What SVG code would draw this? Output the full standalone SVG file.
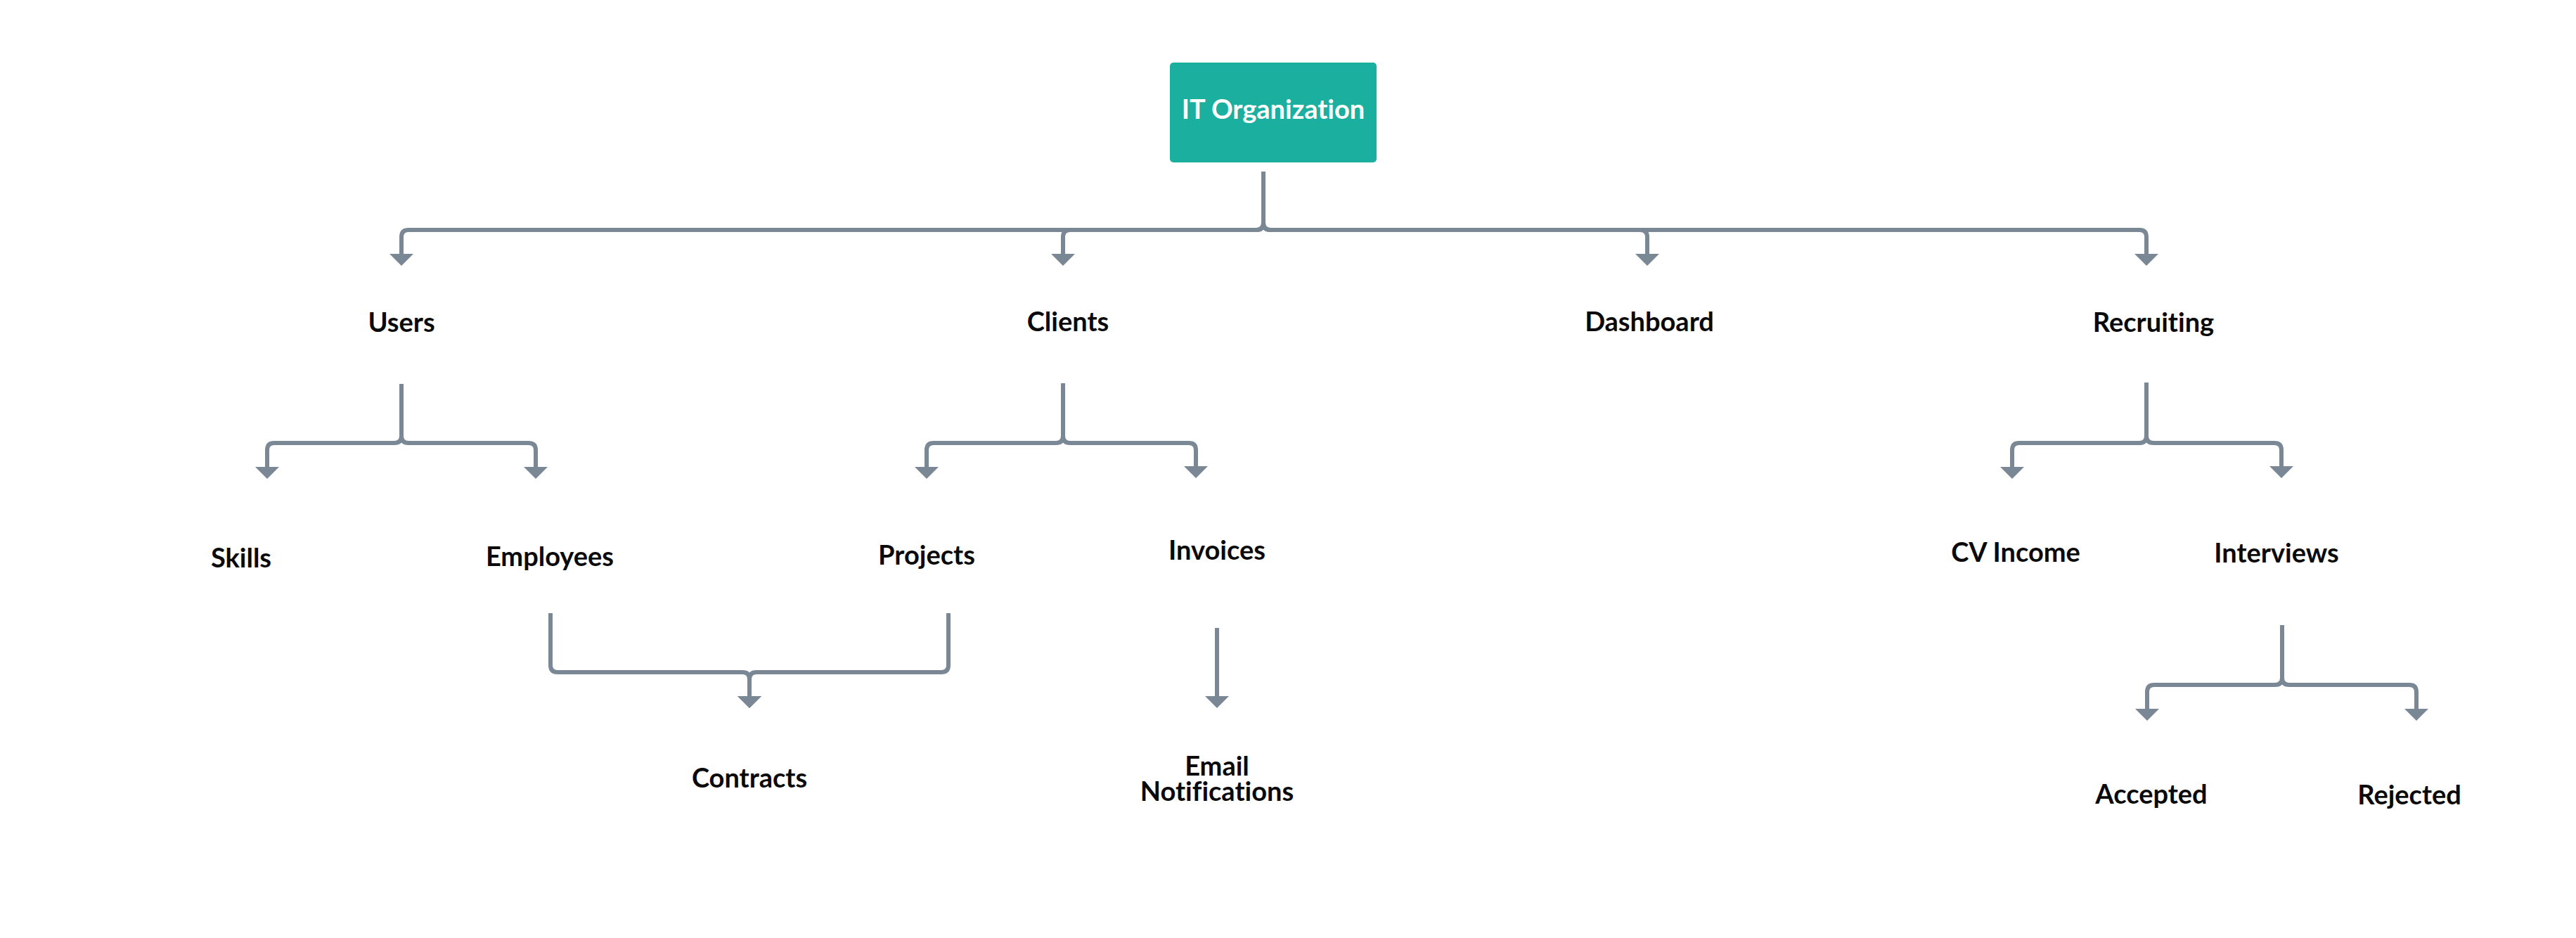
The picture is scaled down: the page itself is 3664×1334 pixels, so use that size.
<svg xmlns="http://www.w3.org/2000/svg" width="3664" height="1334" viewBox="0 0 3664 1334">
  <style>
    .edge { fill: none; stroke: #7a8795; stroke-width: 6; stroke-linejoin: round; }
    .lbl { font-family: Lato, "Noto Sans", "Liberation Sans", sans-serif; font-weight: bold; font-size: 38px; fill: #0a0a0a; text-anchor: middle; font-variant-ligatures: none; }
    .root-lbl { font-family: Lato, "Noto Sans", "Liberation Sans", sans-serif; font-weight: bold; font-size: 38px; fill: #ffffff; text-anchor: middle; font-variant-ligatures: none; }
  </style>
  <defs>
    <marker id="arr" markerUnits="userSpaceOnUse" viewBox="0 -17 18 34" markerWidth="18" markerHeight="34" refX="1" refY="0" orient="auto">
      <path d="M0,-17 L17,0 L0,17 Z" fill="#7a8795"/>
    </marker>
  </defs>
  <rect width="3664" height="1334" fill="#ffffff"/>

  <g id="connectors">
    <!-- root to level 1 -->
    <path class="edge" marker-end="url(#arr)" d="M1797,244 V317 Q1797,327 1787,327 H581 Q571,327 571,337 V362"/>
    <path class="edge" marker-end="url(#arr)" d="M1797,244 V317 Q1797,327 1787,327 H1522 Q1512,327 1512,337 V362"/>
    <path class="edge" marker-end="url(#arr)" d="M1797,244 V317 Q1797,327 1807,327 H2333 Q2343,327 2343,337 V362"/>
    <path class="edge" marker-end="url(#arr)" d="M1797,244 V317 Q1797,327 1807,327 H3043 Q3053,327 3053,337 V362"/>
    <!-- Users -->
    <path class="edge" marker-end="url(#arr)" d="M571,546 V620 Q571,630 561,630 H390 Q380,630 380,640 V665"/>
    <path class="edge" marker-end="url(#arr)" d="M571,546 V620 Q571,630 581,630 H752 Q762,630 762,640 V665"/>
    <!-- Clients -->
    <path class="edge" marker-end="url(#arr)" d="M1512,545 V620 Q1512,630 1502,630 H1328 Q1318,630 1318,640 V665"/>
    <path class="edge" marker-end="url(#arr)" d="M1512,545 V620 Q1512,630 1522,630 H1691 Q1701,630 1701,640 V664"/>
    <!-- Recruiting -->
    <path class="edge" marker-end="url(#arr)" d="M3053,544 V620 Q3053,630 3043,630 H2872 Q2862,630 2862,640 V665"/>
    <path class="edge" marker-end="url(#arr)" d="M3053,544 V620 Q3053,630 3063,630 H3235 Q3245,630 3245,640 V664"/>
    <!-- Employees + Projects to Contracts -->
    <path class="edge" marker-end="url(#arr)" d="M783,872 V946 Q783,956 793,956 H1056 Q1066,956 1066,966 V991"/>
    <path class="edge" marker-end="url(#arr)" d="M1349,872 V946 Q1349,956 1339,956 H1076 Q1066,956 1066,966 V991"/>
    <!-- Invoices to Email Notifications -->
    <path class="edge" marker-end="url(#arr)" d="M1731,893 V991"/>
    <!-- Interviews -->
    <path class="edge" marker-end="url(#arr)" d="M3246,889 V964 Q3246,974 3236,974 H3064 Q3054,974 3054,984 V1009"/>
    <path class="edge" marker-end="url(#arr)" d="M3246,889 V964 Q3246,974 3256,974 H3427 Q3437,974 3437,984 V1009"/>
  </g>

  <g id="node-root">
    <rect x="1664" y="89" width="294" height="142" rx="5" fill="#1baf9f"/>
    <text class="root-lbl" x="1811" y="169">IT Organization</text>
  </g>
  <g id="node-users"><text class="lbl" x="571" y="472">Users</text></g>
  <g id="node-clients"><text class="lbl" x="1519" y="471">Clients</text></g>
  <g id="node-dashboard"><text class="lbl" x="2346" y="471">Dashboard</text></g>
  <g id="node-recruiting"><text class="lbl" x="3063" y="472">Recruiting</text></g>
  <g id="node-skills"><text class="lbl" x="343" y="807">Skills</text></g>
  <g id="node-employees"><text class="lbl" x="782" y="805">Employees</text></g>
  <g id="node-projects"><text class="lbl" x="1318" y="803">Projects</text></g>
  <g id="node-invoices"><text class="lbl" x="1731" y="796">Invoices</text></g>
  <g id="node-cv-income"><text class="lbl" x="2867" y="799">CV Income</text></g>
  <g id="node-interviews"><text class="lbl" x="3238" y="800">Interviews</text></g>
  <g id="node-contracts"><text class="lbl" x="1066" y="1120">Contracts</text></g>
  <g id="node-email">
    <text class="lbl" x="1731" y="1103">Email</text>
    <text class="lbl" x="1731" y="1139">Notifications</text>
  </g>
  <g id="node-accepted"><text class="lbl" x="3060" y="1143">Accepted</text></g>
  <g id="node-rejected"><text class="lbl" x="3427" y="1144">Rejected</text></g>
</svg>
